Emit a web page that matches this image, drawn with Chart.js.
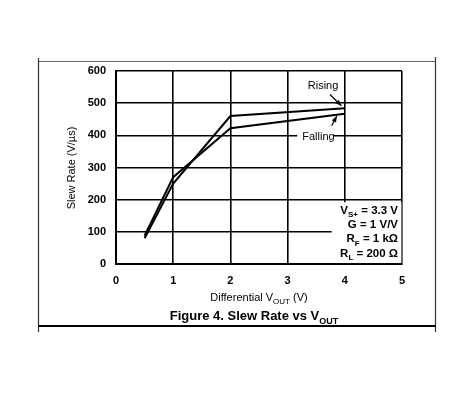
<!DOCTYPE html>
<html>
<head>
<meta charset="utf-8">
<script src="https://cdn.jsdelivr.net/npm/chart.js@4/dist/chart.umd.min.js"></script>
<style>
  html, body { margin: 0; padding: 0; background: #fff; }
  #wrap { width: 474px; height: 395px; position: relative; }
</style>
</head>
<body>
<div id="wrap"><canvas id="c" width="474" height="395"></canvas></div>
<script>
const xValues = [0.5, 1, 2, 4];
const risingValues = [80, 250, 460, 484];
const fallingValues = [88, 270, 422, 467];
const xTickValues = [0, 1, 2, 3, 4, 5];
const yTickValues = [0, 100, 200, 300, 400, 500, 600];
const seriesNames = ["Rising", "Falling"];
const conditionLines = [
  [["V", false], ["S+", true], [" = 3.3 V", false]],
  [["G = 1 V/V", false]],
  [["R", false], ["F", true], [" = 1 kΩ", false]],
  [["R", false], ["L", true], [" = 200 Ω", false]]
];

const FONT = "'Liberation Sans', Arial, sans-serif";

function drawRich(ctx, parts, x, y, size, bold, align) {
  const main = (bold ? "bold " : "") + size + "px " + FONT;
  const sub = (bold ? "bold " : "") + Math.round(size * 0.72) + "px " + FONT;
  let total = 0;
  parts.forEach(p => { ctx.font = p[1] ? sub : main; total += ctx.measureText(p[0]).width; });
  let cx = align === "right" ? x - total : align === "center" ? x - total / 2 : x;
  ctx.textAlign = "left";
  ctx.textBaseline = "alphabetic";
  parts.forEach(p => {
    ctx.font = p[1] ? sub : main;
    ctx.fillText(p[0], cx, p[1] ? y + size * 0.28 : y);
    cx += ctx.measureText(p[0]).width;
  });
}

function arrow(ctx, x1, y1, x2, y2) {
  ctx.beginPath();
  ctx.moveTo(x1, y1); ctx.lineTo(x2, y2);
  ctx.lineWidth = 1.2; ctx.strokeStyle = "#000"; ctx.stroke();
  const a = Math.atan2(y2 - y1, x2 - x1), L = 6, W = 2.4;
  ctx.beginPath();
  ctx.moveTo(x2, y2);
  ctx.lineTo(x2 - L * Math.cos(a) + W * Math.sin(a), y2 - L * Math.sin(a) - W * Math.cos(a));
  ctx.lineTo(x2 - L * Math.cos(a) - W * Math.sin(a), y2 - L * Math.sin(a) + W * Math.cos(a));
  ctx.closePath(); ctx.fillStyle = "#000"; ctx.fill();
}

const decor = {
  id: "decor",
  beforeDraw(chart) {
    const ctx = chart.ctx;
    ctx.save();
    ctx.fillStyle = "#fff";
    ctx.fillRect(0, 0, chart.width, chart.height);
    // outer frame
    ctx.strokeStyle = "#666"; ctx.lineWidth = 1;
    ctx.beginPath(); ctx.moveTo(38, 61.5); ctx.lineTo(435, 61.5); ctx.stroke();
    ctx.strokeStyle = "#333"; ctx.lineWidth = 1.2;
    ctx.beginPath(); ctx.moveTo(38.5, 58); ctx.lineTo(38.5, 332); ctx.stroke();
    ctx.beginPath(); ctx.moveTo(435.5, 57); ctx.lineTo(435.5, 332); ctx.stroke();
    ctx.strokeStyle = "#000"; ctx.lineWidth = 2;
    ctx.beginPath(); ctx.moveTo(38, 326); ctx.lineTo(436, 326); ctx.stroke();
    ctx.restore();
  },
  beforeDatasetsDraw(chart) {
    const ctx = chart.ctx, xs = chart.scales.x, ys = chart.scales.y;
    ctx.save();
    ctx.fillStyle = "#fff";
    // conditions box
    ctx.fillRect(xs.getPixelForValue(3.77), ys.getPixelForValue(192), xs.getPixelForValue(4.99) - xs.getPixelForValue(3.77), ys.getPixelForValue(3) - ys.getPixelForValue(192));
    // Falling label background
    ctx.fillRect(xs.getPixelForValue(3.17), ys.getPixelForValue(412), xs.getPixelForValue(3.8) - xs.getPixelForValue(3.17), ys.getPixelForValue(376) - ys.getPixelForValue(412));
    ctx.restore();
  },
  afterDatasetsDraw(chart) {
    const ctx = chart.ctx, xs = chart.scales.x, ys = chart.scales.y;
    ctx.save();
    ctx.fillStyle = "#000";
    // series labels
    ctx.font = "11px " + FONT;
    ctx.textAlign = "center"; ctx.textBaseline = "middle";
    ctx.fillText(seriesNames[0], xs.getPixelForValue(3.62), ys.getPixelForValue(555));
    ctx.fillText(seriesNames[1], xs.getPixelForValue(3.54), ys.getPixelForValue(394));
    arrow(ctx, xs.getPixelForValue(3.74), ys.getPixelForValue(527), xs.getPixelForValue(3.94), ys.getPixelForValue(492));
    arrow(ctx, xs.getPixelForValue(3.77), ys.getPixelForValue(430), xs.getPixelForValue(3.86), ys.getPixelForValue(460));
    // conditions
    const rx = xs.getPixelForValue(4.93);
    conditionLines.forEach((parts, i) => {
      drawRich(ctx, parts, rx, ys.getPixelForValue(155 - i * 44), 11.5, true, "right");
    });
    ctx.restore();
  },
  afterDraw(chart) {
    const ctx = chart.ctx;
    ctx.save();
    ctx.fillStyle = "#000";
    // x axis title
    drawRich(ctx, [["Differential V", false], ["OUT", true], [" (V)", false]], 259, 301, 11, false, "center");
    // figure title
    drawRich(ctx, [["Figure 4. Slew Rate vs V", false], ["OUT", true]], 254, 320, 13, true, "center");
    // y axis title
    ctx.translate(72, 168);
    ctx.rotate(-Math.PI / 2);
    ctx.font = "11px " + FONT;
    ctx.textAlign = "center"; ctx.textBaseline = "middle";
    ctx.fillText("Slew Rate (V/µs)", 0, 0);
    ctx.restore();
  }
};

new Chart(document.getElementById("c"), {
  type: "line",
  data: {
    datasets: [
      { label: seriesNames[0], data: xValues.map((x, i) => ({ x, y: risingValues[i] })), borderColor: "#000", borderWidth: 2, pointRadius: 0, tension: 0, fill: false },
      { label: seriesNames[1], data: xValues.map((x, i) => ({ x, y: fallingValues[i] })), borderColor: "#000", borderWidth: 2, pointRadius: 0, tension: 0, fill: false }
    ]
  },
  options: {
    responsive: false,
    animation: false,
    layout: { padding: { left: 0, top: 71, right: 72, bottom: 0 } },
    plugins: { legend: { display: false }, tooltip: { enabled: false }, title: { display: false } },
    scales: {
      x: {
        type: "linear", min: 0, max: 5,
        afterBuildTicks: s => { s.ticks = xTickValues.map(v => ({ value: v })); },
        afterFit: s => { s.height = 131; },
        ticks: { color: "#000", font: { family: FONT, size: 11, weight: "bold" }, padding: 10, maxRotation: 0 },
        grid: { color: "#000", lineWidth: 1.6, drawTicks: false },
        border: { display: true, color: "#000", width: 2 }
      },
      y: {
        type: "linear", min: 0, max: 600,
        afterBuildTicks: s => { s.ticks = yTickValues.map(v => ({ value: v })); },
        afterFit: s => { s.width = 116; },
        ticks: { color: "#000", font: { family: FONT, size: 11, weight: "bold" }, padding: 10 },
        grid: { color: "#000", lineWidth: 1.6, drawTicks: false },
        border: { display: true, color: "#000", width: 2 }
      }
    }
  },
  plugins: [decor]
});
</script>
</body>
</html>
